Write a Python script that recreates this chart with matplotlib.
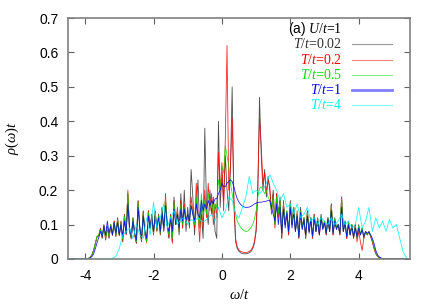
import numpy as np
import matplotlib
matplotlib.use("Agg")
import matplotlib.pyplot as plt

plt.rcParams['mathtext.fontset'] = 'custom'
plt.rcParams['mathtext.rm'] = 'Liberation Serif'
plt.rcParams['mathtext.it'] = 'Liberation Serif:italic'
plt.rcParams['mathtext.sf'] = 'Liberation Sans'
plt.rcParams['axes.unicode_minus'] = False

# spectral functions; omega grid starts at -4.0, step 0.05
w0, dw = -4.0, 0.05
rho_T002 = [
    0.0, 0.0, 0.002, 0.005, 0.012, 0.025, 0.045, 0.065, 0.068, 0.09,
    0.06, 0.1, 0.055, 0.095, 0.06, 0.1, 0.07, 0.11, 0.065, 0.12,
    0.07, 0.11, 0.05, 0.13, 0.07, 0.19, 0.08, 0.06, 0.12, 0.07,
    0.045, 0.17, 0.09, 0.05, 0.14, 0.07, 0.05, 0.14, 0.09, 0.13,
    0.07, 0.14, 0.08, 0.13, 0.07, 0.15, 0.08, 0.17, 0.1, 0.06,
    0.13, 0.05, 0.18, 0.1, 0.14, 0.07, 0.19, 0.09, 0.2, 0.08,
    0.15, 0.09, 0.26, 0.18, 0.07, 0.15, 0.23, 0.09, 0.13, 0.06,
    0.38, 0.15, 0.1, 0.2, 0.13, 0.18, 0.08, 0.06, 0.4, 0.15,
    0.25, 0.17, 0.3, 0.2, 0.14, 0.27, 0.5, 0.16, 0.05, 0.03,
    0.022, 0.018, 0.016, 0.015, 0.015, 0.016, 0.018, 0.022, 0.03, 0.045,
    0.08, 0.2, 0.47, 0.3, 0.2, 0.26, 0.18, 0.24, 0.2, 0.14,
    0.2, 0.1, 0.19, 0.13, 0.18, 0.06, 0.16, 0.1, 0.14, 0.07,
    0.17, 0.1, 0.15, 0.08, 0.13, 0.06, 0.15, 0.09, 0.12, 0.06,
    0.14, 0.08, 0.12, 0.06, 0.13, 0.08, 0.12, 0.07, 0.13, 0.09,
    0.11, 0.07, 0.12, 0.08, 0.16, 0.07, 0.12, 0.09, 0.1, 0.07,
    0.18, 0.08, 0.11, 0.06, 0.11, 0.07, 0.1, 0.06, 0.1, 0.06,
    0.1, 0.07, 0.09, 0.06, 0.08, 0.07, 0.08, 0.065, 0.05, 0.03,
    0.015, 0.008, 0.004, 0.002, 0.001, 0.0, 0.0]
rho_T02 = [
    0.0, 0.0, 0.002, 0.005, 0.012, 0.026, 0.046, 0.065, 0.066, 0.088,
    0.062, 0.098, 0.057, 0.093, 0.062, 0.1, 0.068, 0.11, 0.067, 0.118,
    0.068, 0.108, 0.052, 0.128, 0.072, 0.2, 0.082, 0.058, 0.118, 0.07,
    0.047, 0.168, 0.088, 0.052, 0.138, 0.072, 0.048, 0.14, 0.088, 0.128,
    0.072, 0.138, 0.082, 0.128, 0.072, 0.148, 0.082, 0.19, 0.1, 0.062,
    0.128, 0.045, 0.17, 0.1, 0.15, 0.08, 0.17, 0.09, 0.16, 0.1,
    0.13, 0.1, 0.18, 0.14, 0.09, 0.22, 0.13, 0.05, 0.16, 0.09,
    0.2, 0.12, 0.22, 0.14, 0.19, 0.1, 0.16, 0.12, 0.31, 0.2,
    0.28, 0.14, 0.35, 0.62, 0.2, 0.26, 0.41, 0.18, 0.06, 0.035,
    0.026, 0.022, 0.02, 0.019, 0.019, 0.02, 0.022, 0.026, 0.034, 0.05,
    0.085, 0.21, 0.41, 0.33, 0.22, 0.25, 0.19, 0.23, 0.21, 0.13,
    0.19, 0.09, 0.19, 0.12, 0.17, 0.06, 0.17, 0.1, 0.13, 0.07,
    0.16, 0.1, 0.15, 0.08, 0.14, 0.06, 0.14, 0.09, 0.12, 0.06,
    0.14, 0.08, 0.12, 0.06, 0.13, 0.08, 0.11, 0.07, 0.12, 0.09,
    0.11, 0.07, 0.12, 0.08, 0.16, 0.07, 0.11, 0.09, 0.1, 0.07,
    0.18, 0.08, 0.11, 0.06, 0.1, 0.07, 0.1, 0.06, 0.1, 0.05,
    0.08, 0.05, 0.025, 0.06, 0.08, 0.07, 0.08, 0.065, 0.05, 0.03,
    0.016, 0.008, 0.004, 0.002, 0.001, 0.0, 0.0]
rho_T05 = [
    0.0, 0.0, 0.002, 0.005, 0.012, 0.026, 0.046, 0.066, 0.07, 0.085,
    0.065, 0.095, 0.06, 0.09, 0.065, 0.1, 0.07, 0.105, 0.07, 0.115,
    0.07, 0.105, 0.055, 0.125, 0.075, 0.19, 0.085, 0.06, 0.12, 0.075,
    0.05, 0.165, 0.09, 0.055, 0.135, 0.075, 0.05, 0.135, 0.09, 0.125,
    0.075, 0.135, 0.085, 0.125, 0.075, 0.145, 0.085, 0.175, 0.1, 0.07,
    0.125, 0.06, 0.165, 0.1, 0.14, 0.08, 0.16, 0.1, 0.15, 0.1,
    0.13, 0.11, 0.16, 0.13, 0.1, 0.18, 0.13, 0.09, 0.19, 0.12,
    0.17, 0.13, 0.19, 0.15, 0.17, 0.13, 0.16, 0.15, 0.23, 0.2,
    0.27, 0.25, 0.33, 0.3, 0.27, 0.22, 0.19, 0.16, 0.13, 0.11,
    0.1, 0.092, 0.086, 0.082, 0.08, 0.081, 0.085, 0.092, 0.1, 0.115,
    0.14, 0.18, 0.205, 0.21, 0.2, 0.19, 0.2, 0.18, 0.17, 0.14,
    0.18, 0.1, 0.18, 0.13, 0.17, 0.07, 0.16, 0.1, 0.14, 0.08,
    0.16, 0.1, 0.15, 0.08, 0.13, 0.065, 0.14, 0.09, 0.12, 0.065,
    0.135, 0.08, 0.12, 0.065, 0.125, 0.08, 0.115, 0.075, 0.125, 0.09,
    0.11, 0.075, 0.12, 0.08, 0.155, 0.075, 0.115, 0.09, 0.1, 0.075,
    0.175, 0.08, 0.11, 0.065, 0.105, 0.07, 0.1, 0.065, 0.095, 0.06,
    0.095, 0.07, 0.09, 0.065, 0.08, 0.07, 0.08, 0.068, 0.055, 0.035,
    0.018, 0.009, 0.004, 0.002, 0.001, 0.0, 0.0]
rho_T1 = [
    0.0, 0.0, 0.001, 0.003, 0.007, 0.015, 0.03, 0.048, 0.062, 0.08,
    0.065, 0.095, 0.07, 0.11, 0.075, 0.095, 0.07, 0.105, 0.075, 0.105,
    0.07, 0.1, 0.065, 0.11, 0.075, 0.16, 0.09, 0.065, 0.11, 0.075,
    0.055, 0.15, 0.09, 0.06, 0.125, 0.08, 0.06, 0.125, 0.09, 0.12,
    0.08, 0.125, 0.09, 0.12, 0.08, 0.135, 0.09, 0.155, 0.1, 0.08,
    0.12, 0.08, 0.145, 0.1, 0.13, 0.09, 0.145, 0.11, 0.145, 0.11,
    0.13, 0.11, 0.155, 0.13, 0.11, 0.16, 0.13, 0.12, 0.17, 0.14,
    0.16, 0.145, 0.17, 0.155, 0.17, 0.16, 0.175, 0.175, 0.19, 0.2,
    0.22, 0.21, 0.21, 0.22, 0.225, 0.23, 0.225, 0.21, 0.19, 0.175,
    0.165, 0.158, 0.154, 0.151, 0.15, 0.15, 0.151, 0.153, 0.156, 0.16,
    0.162, 0.164, 0.165, 0.165, 0.166, 0.167, 0.168, 0.17, 0.17, 0.15,
    0.13, 0.11, 0.16, 0.1, 0.15, 0.075, 0.145, 0.09, 0.135, 0.08,
    0.15, 0.09, 0.135, 0.08, 0.125, 0.065, 0.135, 0.085, 0.115, 0.07,
    0.125, 0.075, 0.115, 0.065, 0.12, 0.08, 0.11, 0.07, 0.12, 0.085,
    0.105, 0.075, 0.115, 0.08, 0.14, 0.075, 0.11, 0.085, 0.1, 0.075,
    0.15, 0.08, 0.105, 0.065, 0.1, 0.07, 0.095, 0.065, 0.09, 0.065,
    0.09, 0.07, 0.085, 0.065, 0.08, 0.075, 0.078, 0.07, 0.06, 0.045,
    0.025, 0.012, 0.006, 0.003, 0.001, 0.0, 0.0]

# T/t=4 on its own grid: starts at -3.4, step 0.1
w0_T4, dw_T4 = -3.4, 0.1
rho_T4 = [
    0.0, 0.0, 0.002, 0.008, 0.03, 0.07, 0.08, 0.09, 0.06, 0.1,
    0.07, 0.06, 0.12, 0.07, 0.165, 0.09, 0.12, 0.16, 0.09, 0.12,
    0.14, 0.1, 0.115, 0.12, 0.1, 0.115, 0.11, 0.12, 0.11, 0.11,
    0.12, 0.13, 0.11, 0.15, 0.12, 0.14, 0.18, 0.17, 0.13, 0.12,
    0.15, 0.18, 0.24, 0.19, 0.2, 0.19, 0.2, 0.22, 0.245, 0.22,
    0.2, 0.17, 0.19, 0.15, 0.16, 0.13, 0.16, 0.12, 0.13, 0.15,
    0.11, 0.12, 0.1, 0.12, 0.11, 0.1, 0.12, 0.1, 0.11, 0.13,
    0.1, 0.11, 0.09, 0.1, 0.15, 0.09, 0.11, 0.15, 0.08, 0.12,
    0.09, 0.11, 0.08, 0.115, 0.09, 0.1, 0.06, 0.02, 0.003, 0.0]

labels = ['$T/t$=0.02', '$T/t$=0.2', '$T/t$=0.5', '$T/t$=1', '$T/t$=4']
colors = ['#303030', '#ff0000', '#00e000', '#0000ff', '#00f0f0']

def grid(start, step, vals):
    return np.concatenate([[-4.5], start + step * np.arange(len(vals)), [5.5]])

series = [(w0, dw, rho_T002), (w0, dw, rho_T02), (w0, dw, rho_T05),
          (w0, dw, rho_T1), (w0_T4, dw_T4, rho_T4)]

fig = plt.figure(figsize=(4.36, 3.05), dpi=100)
ax = fig.add_axes([68/436, 46/305, 342/436, 241/305])

for (s, d, v), c in zip(series, colors):
    ax.plot(grid(s, d, v), np.concatenate([[0], v, [0]]), color=c, lw=0.6,
            alpha=0.85)

ax.set_xlim(-4.5, 5.5)
ax.set_ylim(0, 0.7)
ax.set_xticks([-4, -2, 0, 2, 4])
ax.set_yticks(np.arange(0, 0.71, 0.1))
ax.set_yticklabels(['0', '0.1', '0.2', '0.3', '0.4', '0.5', '0.6', '0.7'])
for sp in ax.spines.values():
    sp.set_color('#808080')
    sp.set_linewidth(1.2)
ax.tick_params(direction='in', top=True, right=True, length=4, color='#606060',
               labelsize=10, pad=7)
for t in ax.get_xticklabels() + ax.get_yticklabels():
    t.set_fontfamily('Liberation Sans')

ax.set_xlabel(r'$\omega/t$', fontsize=10.5, labelpad=3)
ax.set_ylabel(r'$\rho(\omega)t$', fontsize=10.5, labelpad=13)

# key, gnuplot style: right-aligned coloured text with line samples
ax.text(0.801, 0.955, r'$\mathsf{(a)}$ $U/t$=1', transform=ax.transAxes,
        ha='right', va='center', fontsize=10, family='Liberation Serif')
rows = [0.891, 0.826, 0.763, 0.701, 0.639]
for lab, c, y, lw in zip(labels, colors, rows, [0.8, 0.8, 0.8, 2.0, 0.8]):
    ax.text(0.801, y, lab, transform=ax.transAxes, ha='right', va='center',
            fontsize=10, color=c, family='Liberation Serif')
    ax.plot([0.83, 0.947], [y, y], transform=ax.transAxes, color=c, lw=lw,
            alpha=0.5)

fig.savefig('out.png', dpi=100)
